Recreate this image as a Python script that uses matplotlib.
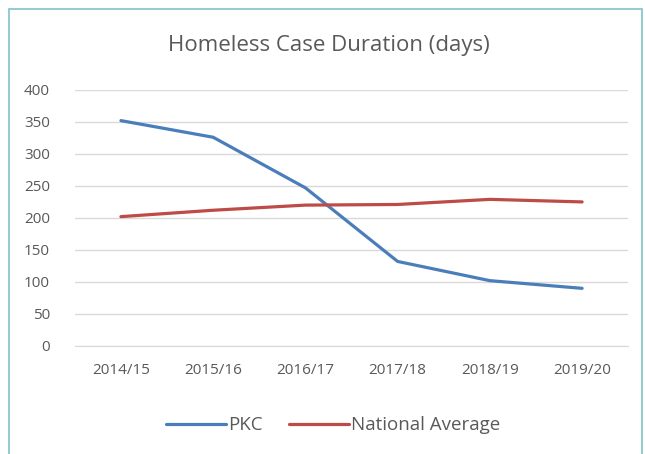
import matplotlib
matplotlib.use("Agg")
import matplotlib.pyplot as plt
from matplotlib.patches import Rectangle

years = ["2014/15", "2015/16", "2016/17", "2017/18", "2018/19", "2019/20"]
pkc = [352, 326, 247, 132, 102, 90]
national = [202, 212, 220, 221, 229, 225]

plt.rcParams["font.family"] = ["Open Sans", "DejaVu Sans"]
TEXT = "#595959"

fig = plt.figure(figsize=(6.45, 4.54), dpi=100)
ax = fig.add_axes([0.116, 0.238, 0.858, 0.564])

x = range(len(years))
ax.plot(x, pkc, color="#4a7ebb", linewidth=2.3, label="PKC", solid_capstyle="round")
ax.plot(x, national, color="#be4b48", linewidth=2.3, label="National Average",
        solid_capstyle="round")

ax.set_xlim(-0.5, len(years) - 0.5)
ax.set_ylim(0, 400)
ax.set_yticks(range(0, 401, 50))
ax.set_xticks(list(x))
ax.set_xticklabels(years)
ax.yaxis.grid(True, color="#d9d9d9", linewidth=1)
ax.set_axisbelow(True)
for s in ["top", "right", "left"]:
    ax.spines[s].set_visible(False)
ax.spines["bottom"].set_color("#d9d9d9")
ax.tick_params(axis="both", length=0, colors=TEXT, labelsize=11)
ax.tick_params(axis="y", pad=18)
ax.tick_params(axis="x", pad=12)

fig.text(0.51, 0.9, "Homeless Case Duration (days)", ha="center", va="center",
         fontsize=16, color=TEXT)

ax.legend(loc="center", bbox_to_anchor=(0.467, -0.31), ncol=2, frameon=False,
          fontsize=13.5, labelcolor=TEXT, handlelength=3.2, handletextpad=0.1,
          columnspacing=1.4)

# outer frame around the chart
fig.patches.append(Rectangle((9 / 645, -0.05), 633 / 645, 1 - 9 / 454 + 0.05,
                             transform=fig.transFigure, fill=False,
                             edgecolor="#7cc4c8", linewidth=1.2))

fig.savefig("out.png", dpi=100)
